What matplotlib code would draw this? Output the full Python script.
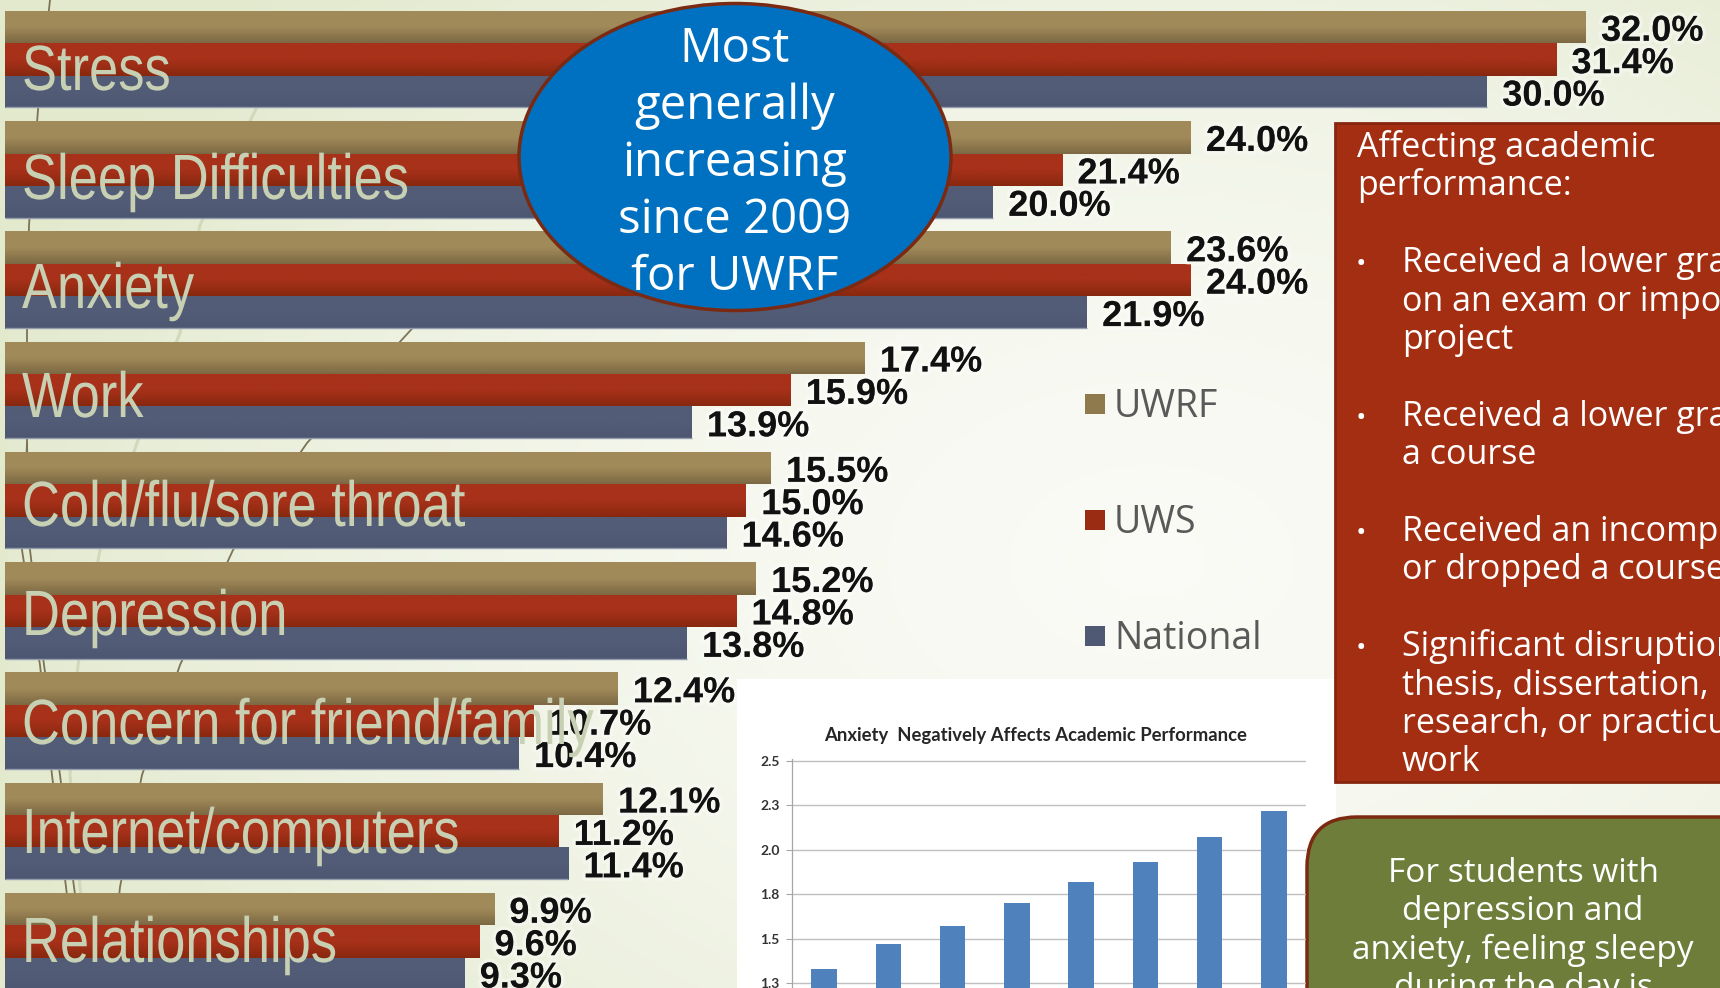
import numpy as np
import matplotlib
matplotlib.use("Agg")
import matplotlib.pyplot as plt
from matplotlib import font_manager
from matplotlib.colors import LinearSegmentedColormap
from matplotlib.patches import Ellipse, Rectangle, FancyBboxPatch, PathPatch
from matplotlib.textpath import TextPath
from matplotlib.font_manager import FontProperties
from matplotlib.transforms import Affine2D
import matplotlib.patheffects as pe

# ---------------------------------------------------------------- data
categories = ["Stress", "Sleep Difficulties", "Anxiety", "Work",
              "Cold/flu/sore throat", "Depression", "Concern for friend/family",
              "Internet/computers", "Relationships"]
series_names = ["UWRF", "UWS", "National"]
uwrf = [32.0, 24.0, 23.6, 17.4, 15.5, 15.2, 12.4, 12.1, 9.9]
uws = [31.4, 21.4, 24.0, 15.9, 15.0, 14.8, 10.7, 11.2, 9.6]
national = [30.0, 20.0, 21.9, 13.9, 14.6, 13.8, 10.4, 11.4, 9.3]

callout_lines = ["Most", "generally", "increasing", "since 2009", "for UWRF"]
effects_heading = ["Affecting academic", "performance:"]
effects_items = [
    ["Received a lower grade", "on an exam or important", "project"],
    ["Received a lower grade in", "a course"],
    ["Received an incomplete", "or dropped a course"],
    ["Significant disruption in", "thesis, dissertation,", "research, or practicum", "work"],
]
sleep_note = ["For students with", "depression and", "anxiety, feeling sleepy",
              "during the day is"]

inset_title = "Anxiety  Negatively Affects Academic Performance"
inset_values = [1.33, 1.47, 1.57, 1.70, 1.82, 1.93, 2.07, 2.22]
inset_ticks = [1.25, 1.5, 1.75, 2.0, 2.25, 2.5]
inset_tick_labels = ["1.3", "1.5", "1.8", "2.0", "2.3", "2.5"]

# ---------------------------------------------------------------- fonts
installed = {f.name for f in font_manager.fontManager.ttflist}


def pick(*names):
    for n in names:
        if n in installed:
            return n
    return "DejaVu Sans"


narrow_font = pick("Liberation Sans Narrow")
cat_font = narrow_font if narrow_font != "DejaVu Sans" else pick("Liberation Sans", "DejaVu Sans")
cat_squeeze = 1.0 if narrow_font != "DejaVu Sans" else 0.82
value_font = pick("Liberation Sans", "DejaVu Sans")
body_font = pick("Open Sans", "Lato", "DejaVu Sans")
chart_font = pick("Lato", "Open Sans", "DejaVu Sans")

# ---------------------------------------------------------------- figure
W, H = 1720, 988
fig = plt.figure(figsize=(W / 100, H / 100), dpi=100)


def pixel_axes(z):
    a = fig.add_axes([0, 0, 1, 1], zorder=z)
    a.set_xlim(0, W)
    a.set_ylim(H, 0)
    a.axis("off")
    a.patch.set_alpha(0)
    return a


# soft slide background
bg = pixel_axes(0)
yy, xx = np.mgrid[0:H:4, 0:W:4]
r = np.clip(np.hypot((xx - 1150) / 1250.0, (yy - 560) / 850.0), 0, 1)
bg_cmap = LinearSegmentedColormap.from_list(
    "bg", ["#FBFBF7", "#F6F8EF", "#EDF1E0", "#E2E9CC"])
bg.imshow(r, cmap=bg_cmap, extent=(0, W, H, 0), aspect="auto",
          interpolation="bilinear", vmin=0, vmax=1, zorder=0)
bg.add_patch(Rectangle((0, 0), 8, H, fc="#E2E9CC", ec="none", zorder=0.5))

# decorative wisps
dark_wisps = [
    [(50, 0), (38, 110), (29, 225), (27, 333), (27, 443), (22, 550),
     (40, 665), (52, 775), (66, 887), (78, 988)],
    [(27, 443), (30, 550), (44, 665), (60, 775), (74, 887), (88, 988)],
    [(420, 320), (307, 443), (233, 550), (180, 665), (142, 775),
     (120, 887), (110, 988)],
]
light_wisps = [
    [(290, 40), (253, 115), (200, 225), (180, 333), (137, 443), (100, 550),
     (78, 665), (70, 775), (80, 887), (92, 988)],
]
for pts in dark_wisps:
    p = np.array(pts)
    bg.plot(p[:, 0], p[:, 1], color="#7D7355", lw=1.3, zorder=1,
            solid_capstyle="round")
for pts in light_wisps:
    p = np.array(pts)
    bg.plot(p[:, 0], p[:, 1], color="#D2D9BA", lw=2.2, zorder=1,
            solid_capstyle="round")
bg.set_xlim(0, W)
bg.set_ylim(H, 0)

# ---------------------------------------------------------------- main bars
ax = fig.add_axes([0, 0, 1, 1], zorder=1)
ax.patch.set_alpha(0)
ax.axis("off")

PX_PER_PCT = 49.4     # horizontal scale of the bar chart
X_ZERO = 5            # pixel position of 0 %
PITCH = 110.25        # pixel distance between category groups
FIRST_CENTER = 59.5   # pixel position of the first group centre
xlim = (-X_ZERO / PX_PER_PCT, (W - X_ZERO) / PX_PER_PCT)
ylim = ((H - FIRST_CENTER) / PITCH, -FIRST_CENTER / PITCH)

bar_h = 32.4 / PITCH
idx = np.arange(len(categories))
offsets = [-bar_h, 0.0, bar_h]
series = [uwrf, uws, national]
top_colors = ["#A18A59", "#A8311A", "#525C77"]
bottom_colors = ["#7C6944", "#88280F", "#4D5771"]
grad = np.linspace(0, 1, 64).reshape(-1, 1)

for vals, off, ct, cb in zip(series, offsets, top_colors, bottom_colors):
    bars = ax.barh(idx + off, vals, height=bar_h, color=cb, zorder=2)
    cmap = LinearSegmentedColormap.from_list("shade", [ct, ct, cb])
    for b in bars:
        x0, y0, w, h = b.get_x(), b.get_y(), b.get_width(), b.get_height()
        im = ax.imshow(grad, cmap=cmap, extent=(x0, x0 + w, y0 + h, y0),
                       aspect="auto", interpolation="bilinear", zorder=2.1)
        im.set_clip_path(b)

# thin highlight along the lower edge of the national bars
ax.hlines(idx + offsets[2] + bar_h / 2 - 0.6 / PITCH, 0, national,
          color="#949DB0", lw=1.0, zorder=2.2)

glow = [pe.withStroke(linewidth=5, foreground=(1, 1, 1, 0.35))]
for vals, off in zip(series, offsets):
    for i, v in enumerate(vals):
        ax.annotate(f"{v:.1f}%", xy=(v, i + off), xytext=(11, -3),
                    textcoords="offset points", ha="left", va="center",
                    fontsize=26, fontweight="bold", family=value_font,
                    color="#111111", zorder=6, path_effects=glow)

ax.set_xlim(*xlim)
ax.set_ylim(*ylim)

# category names, set in a narrow face over the bars
lab = pixel_axes(2)
LABEL_BASE = 90.0     # pixel baseline of the first category name
LABEL_PITCH = 109.0
LABEL_EM = 64.0       # em size in pixels
cat_prop = FontProperties(family=cat_font)
for i, name in enumerate(categories):
    y_px = LABEL_BASE + LABEL_PITCH * i
    tp = TextPath((0, 0), name, size=LABEL_EM, prop=cat_prop)
    tr = Affine2D().scale(cat_squeeze, -1.0).translate(22, y_px) + lab.transData
    lab.add_patch(PathPatch(tp, transform=tr, fc="#C8D0B4", ec="none", lw=0))
lab.set_xlim(0, W)
lab.set_ylim(H, 0)

# ---------------------------------------------------------------- overlay
ov = pixel_axes(3)

# callout ellipse
ov.add_patch(Ellipse((735, 157), 432, 307, fc="#0070C0", ec="#7A2A12", lw=2.5))
for k, line in enumerate(callout_lines):
    ov.text(735, 62 + 57 * k, line, fontsize=34, family=body_font,
            color="white", ha="center", va="baseline")

# legend
legend_colors = ["#8F7A4E", "#9A2C14", "#4F5974"]
for k, (name, col) in enumerate(zip(series_names, legend_colors)):
    cy = 404 + 116 * k
    ov.add_patch(Rectangle((1085, cy - 10), 20, 20, fc=col, ec="none"))
    ov.text(1114, cy + 13, name, fontsize=27, family=body_font,
            color="#595959", ha="left", va="baseline")

# white panel behind the small chart
ov.add_patch(Rectangle((737, 679), 599, 320, fc="white", ec="none"))
ov.text(1036, 735, inset_title, fontsize=13.3, fontweight="bold",
        family=chart_font, color="#262626", ha="center", va="center")

# red panel
ov.add_patch(Rectangle((1335, 123), 420, 659, fc="#A32E12", ec="#86260F", lw=2))
LINE = 38.4
row = 0
for line in effects_heading:
    ov.text(1357, 157 + LINE * row, line, fontsize=24.5, family=body_font,
            color="white", ha="left", va="baseline")
    row += 1
for item in effects_items:
    row += 1
    ov.text(1361, 157 + LINE * row, "\u2022", fontsize=20, family=body_font,
            color="white", ha="center", va="baseline")
    for line in item:
        ov.text(1402, 157 + LINE * row, line, fontsize=24.5, family=body_font,
                color="white", ha="left", va="baseline")
        row += 1

# green panel
ov.add_patch(FancyBboxPatch((1307, 817), 520, 300,
                            boxstyle="round,pad=0,rounding_size=50",
                            fc="#6E7D3A", ec="#7B2A10", lw=2.5))
for k, line in enumerate(sleep_note):
    ov.text(1523, 882 + 38.3 * k, line, fontsize=24, family=body_font,
            color="white", ha="center", va="baseline")
ov.set_xlim(0, W)
ov.set_ylim(H, 0)

# ---------------------------------------------------------------- inset chart
GRID_TOP_PX = 761       # pixel row of the 2.5 gridline
PX_PER_UNIT = 177.6
pad_px = 2
inset_top = GRID_TOP_PX - pad_px
axi = fig.add_axes([792 / W, 0, (1306 - 792) / W, (H - inset_top) / H], zorder=4)
axi.patch.set_alpha(0)
axi.set_ylim(2.5 - (H - GRID_TOP_PX) / PX_PER_UNIT, 2.5 + pad_px / PX_PER_UNIT)
axi.set_xlim(-0.5, len(inset_values) - 0.5)
axi.bar(np.arange(len(inset_values)), inset_values, width=0.4,
        color="#4F81BD", zorder=3)
axi.set_yticks(inset_ticks)
axi.set_yticklabels(inset_tick_labels)
axi.set_xticks([])
axi.yaxis.grid(True, color="#BFBFBF", lw=1.0)
axi.set_axisbelow(True)
for s in ("top", "right", "bottom"):
    axi.spines[s].set_visible(False)
axi.spines["left"].set_color("#A6A6A6")
axi.spines["left"].set_linewidth(0.9)
axi.tick_params(axis="y", length=4, width=0.8, color="#A6A6A6", pad=5,
                labelsize=10, labelcolor="#333333")
for t in axi.get_yticklabels():
    t.set_fontweight("bold")
    t.set_family(chart_font)

fig.savefig("out.png", dpi=100)
